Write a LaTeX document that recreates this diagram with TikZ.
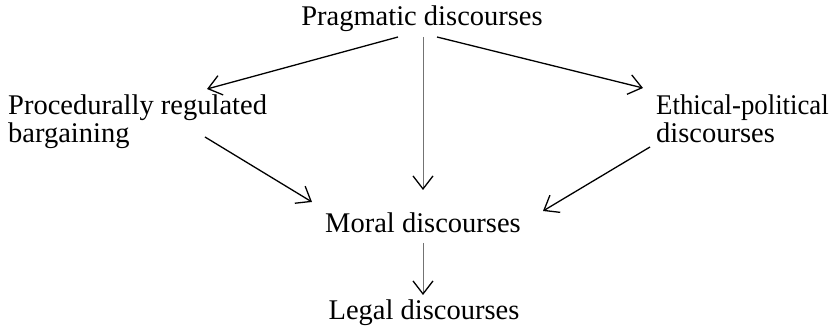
\documentclass[tikz,border=0pt]{standalone}
\usepackage{fontspec}
\setmainfont{Liberation Serif}
\usetikzlibrary{arrows.meta}
\tikzset{
  lbl/.style={inner sep=0pt, font=\fontsize{28.5}{34}\selectfont},
  arr/.style={line width=1.3pt, black, -{Straight Barb[length=13pt,width=20pt,line width=1.3pt]}},
  garr/.style={line width=0.8pt, black!55, -{Straight Barb[length=13pt,width=20pt,line width=1.3pt,black]}}
}
\begin{document}
\begin{tikzpicture}[x=1pt,y=-1pt]
\useasboundingbox (0,0) rectangle (839,328);
\node[lbl, anchor=base] (prag) at (422,26) {Pragmatic discourses};
\node[lbl, anchor=base west] (proc1) at (8,115) {Procedurally regulated};
\node[lbl, anchor=base west] (proc2) at (8,143) {bargaining};
\node[lbl, anchor=base west] (eth1) at (656,115) {\scalebox{0.94}[1]{Ethical-political}};
\node[lbl, anchor=base west] (eth2) at (656,143) {discourses};
\node[lbl, anchor=base] (moral) at (423,233) {Moral discourses};
\node[lbl, anchor=base] (legal) at (424,320) {Legal discourses};

\draw[arr] ([shift={(-24,11)}]prag.base) -- ([shift={(199,-26)}]proc1.base west);
\draw[arr] ([shift={(15,11)}]prag.base) -- ([shift={(-13,-27)}]eth1.base west);
\draw[garr] ([shift={(1,11)}]prag.base) -- ([shift={(0,-43)}]moral.base);
\draw[arr] ([shift={(197,-6)}]proc2.base west) -- ([shift={(-111,-31)}]moral.base);
\draw[arr] ([shift={(-6,4)}]eth2.base west) -- ([shift={(120,-22)}]moral.base);
\draw[garr] ([shift={(0,10)}]moral.base) -- ([shift={(-1,-25)}]legal.base);
\end{tikzpicture}
\end{document}
